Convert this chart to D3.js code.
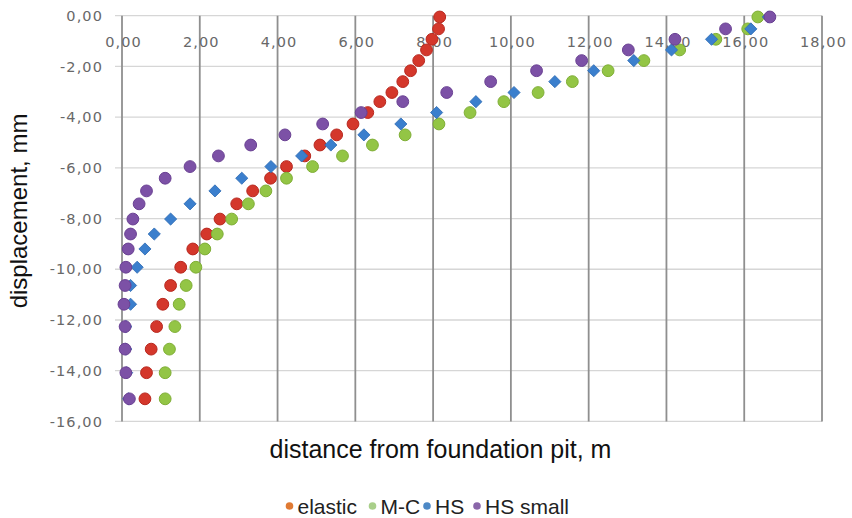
<!DOCTYPE html>
<html>
<head>
<meta charset="utf-8">
<script src="https://cdn.jsdelivr.net/npm/d3@7"></script>
<style>
  html, body { margin: 0; padding: 0; background: #ffffff; }
  svg { display: block; }
</style>
</head>
<body>
<svg id="chart" width="852" height="518"></svg>
<script>
// ---------------- DATA ----------------
const seriesNames = ["elastic", "M-C", "HS", "HS small"];
const xTicks = [0, 2, 4, 6, 8, 10, 12, 14, 16, 18];
const yTicks = [0, -2, -4, -6, -8, -10, -12, -14, -16];

// displacement (y) levels shared by all series, mm
const displacement = [-0.05, -0.52, -0.93, -1.35, -1.77, -2.17, -2.60, -3.03, -3.39, -3.82,
  -4.27, -4.70, -5.10, -5.53, -5.95, -6.41, -6.91, -7.42, -8.02, -8.61,
  -9.20, -9.92, -10.64, -11.38, -12.26, -13.15, -14.08, -15.11];

// distance from foundation pit (x), m
const elastic = [8.17, 8.14, 7.97, 7.83, 7.63, 7.42, 7.22, 6.94, 6.63, 6.32,
  5.94, 5.52, 5.09, 4.70, 4.23, 3.82, 3.36, 2.95, 2.52, 2.18,
  1.82, 1.51, 1.25, 1.05, 0.89, 0.75, 0.63, 0.59];
const mc = [16.35, 16.09, 15.27, 14.34, 13.42, 12.50, 11.58, 10.70, 9.82, 8.95,
  8.15, 7.28, 6.44, 5.67, 4.90, 4.23, 3.70, 3.25, 2.82, 2.45,
  2.13, 1.90, 1.65, 1.47, 1.36, 1.22, 1.11, 1.11];
const hs = [16.62, 16.17, 15.16, 14.13, 13.16, 12.13, 11.13, 10.08, 9.10, 8.09,
  7.17, 6.22, 5.37, 4.62, 3.83, 3.08, 2.39, 1.75, 1.25, 0.83,
  0.59, 0.39, 0.22, 0.22, 0.10, 0.10, 0.12, 0.17];
const hsSmall = [16.66, 15.52, 14.22, 13.02, 11.82, 10.66, 9.48, 8.35, 7.22, 6.15,
  5.16, 4.19, 3.31, 2.48, 1.75, 1.11, 0.63, 0.44, 0.28, 0.22,
  0.16, 0.10, 0.08, 0.05, 0.08, 0.08, 0.10, 0.19];

// ---------------- STYLE ----------------
const seriesStyle = [
  { values: elastic, fill: "#d4372b", stroke: "#b8281f", legend: "#e07a33", shape: "circle" },
  { values: mc,      fill: "#93c545", stroke: "#7fae35", legend: "#a9cf8a", shape: "circle" },
  { values: hs,      fill: "#3b7fcd", stroke: "#2f6db5", legend: "#4d89c6", shape: "diamond" },
  { values: hsSmall, fill: "#7c51a6", stroke: "#6a4193", legend: "#8a66a9", shape: "circle" }
];

const svg = d3.select("#chart");
const x = d3.scaleLinear().domain([0, 18]).range([122, 822]);
const y = d3.scaleLinear().domain([-16, 0]).range([421.4, 15.7]);

const loc = d3.formatLocale({ decimal: ",", thousands: " ", grouping: [3], currency: ["", ""], minus: "-" });
const fmt = loc.format(".2f");
const tickFont = "DejaVu Sans, Verdana, sans-serif";

// horizontal gridlines
svg.append("g").selectAll("line").data(yTicks).join("line")
  .attr("x1", 115).attr("x2", x(18))
  .attr("y1", d => y(d)).attr("y2", d => y(d))
  .attr("stroke", "#d6d6d6").attr("stroke-width", 1.3);

// vertical gridlines (darker)
svg.append("g").selectAll("line").data(xTicks).join("line")
  .attr("x1", d => x(d)).attr("x2", d => x(d))
  .attr("y1", y(0)).attr("y2", y(-16))
  .attr("stroke", "#8f8f8f").attr("stroke-width", 1.8);

// y axis labels
const yAxis = d3.axisLeft(y).tickValues(yTicks).tickFormat(fmt).tickSize(0).tickPadding(0);
const gy = svg.append("g").attr("transform", "translate(103,0)").call(yAxis);
gy.select(".domain").remove();
gy.selectAll("text")
  .attr("font-family", tickFont)
  .attr("font-size", 14.5).attr("fill", "#686868")
  .attr("letter-spacing", "1.1px");

// x axis labels (drawn at top, under the 0 line)
const xAxis = d3.axisBottom(x).tickValues(xTicks).tickFormat(fmt).tickSize(0).tickPadding(0);
const gx = svg.append("g").attr("transform", `translate(1,${y(0)})`).call(xAxis);
gx.select(".domain").remove();
gx.selectAll("text")
  .attr("y", 26).attr("dy", "0.35em")
  .attr("font-family", tickFont)
  .attr("font-size", 14.5).attr("fill", "#686868")
  .attr("letter-spacing", "1.1px");

// points
const diamond = d3.symbol().type(d3.symbolSquare).size(74);
seriesStyle.forEach(s => {
  const pts = s.values.map((v, i) => [v, displacement[i]]);
  const g = svg.append("g");
  if (s.shape === "circle") {
    g.selectAll("circle").data(pts).join("circle")
      .attr("cx", d => x(d[0])).attr("cy", d => y(d[1])).attr("r", 5.9)
      .attr("fill", s.fill).attr("stroke", s.stroke).attr("stroke-width", 1);
  } else {
    g.selectAll("path").data(pts).join("path")
      .attr("d", diamond)
      .attr("transform", d => `translate(${x(d[0])},${y(d[1])}) rotate(45)`)
      .attr("fill", s.fill).attr("stroke", s.stroke).attr("stroke-width", 0.8);
  }
});

// axis titles
svg.append("text")
  .attr("transform", "translate(27,211) rotate(-90)")
  .attr("text-anchor", "middle")
  .attr("font-family", "Liberation Sans, Arial, sans-serif")
  .attr("font-size", 24).attr("fill", "#111")
  .text("displacement, mm");

svg.append("text")
  .attr("x", 440.5).attr("y", 458)
  .attr("text-anchor", "middle")
  .attr("font-family", "Liberation Sans, Arial, sans-serif")
  .attr("font-size", 25).attr("fill", "#111")
  .text("distance from foundation pit, m");

// legend
const legendX = [289.5, 372.5, 427, 477];
const lg = svg.append("g");
seriesNames.forEach((name, i) => {
  lg.append("circle").attr("cx", legendX[i]).attr("cy", 506).attr("r", 3.8)
    .attr("fill", seriesStyle[i].legend);
  lg.append("text").attr("x", legendX[i] + 8).attr("y", 513.5)
    .attr("font-family", "Liberation Sans, Arial, sans-serif")
    .attr("font-size", 21).attr("fill", "#222")
    .text(name);
});
</script>
</body>
</html>
